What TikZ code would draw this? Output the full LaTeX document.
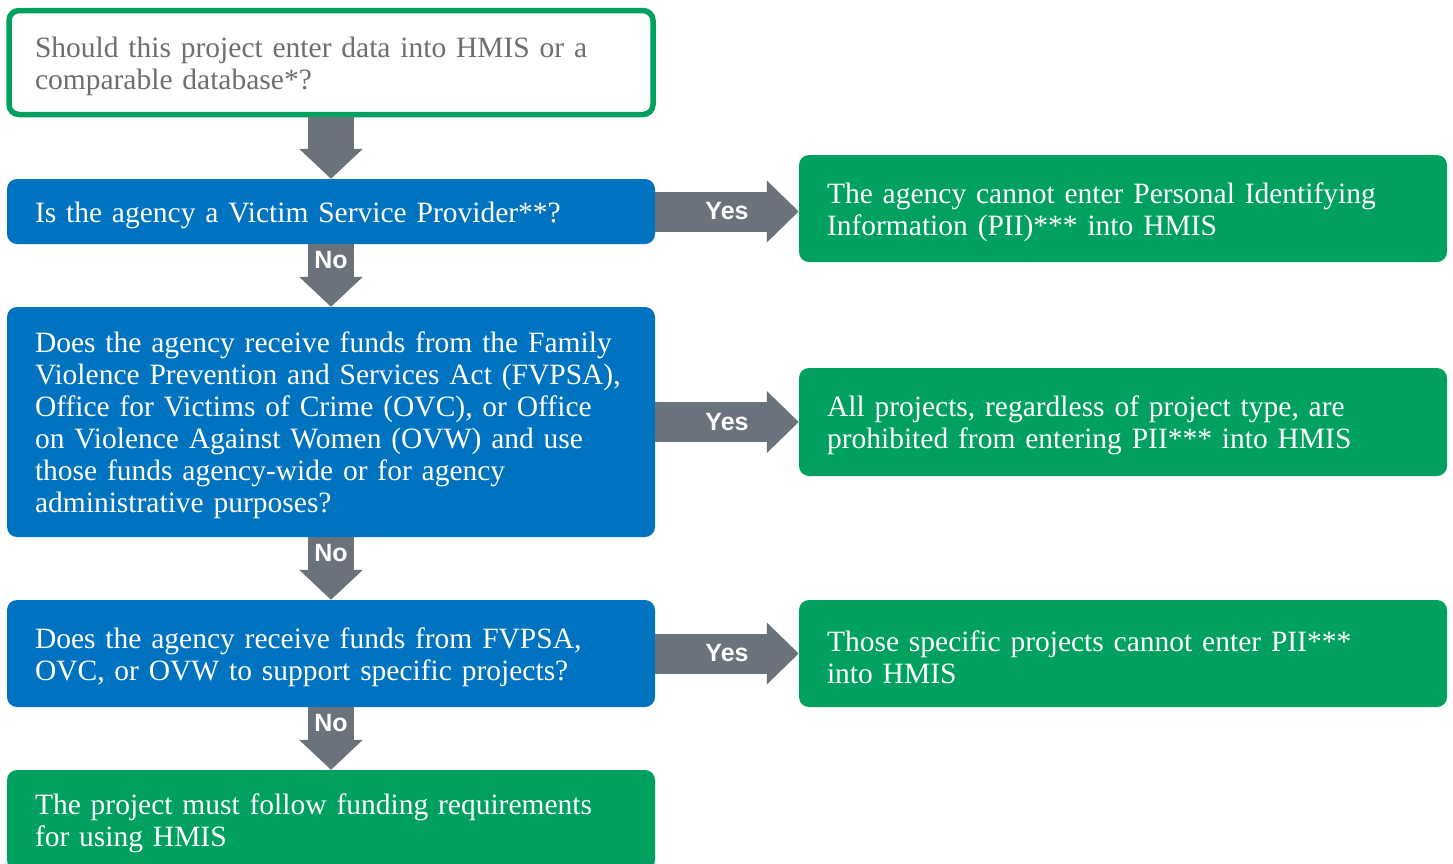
\documentclass[tikz,border=0pt]{standalone}
\usepackage{fontspec}
\setmainfont{Liberation Serif}
\newfontfamily\labelfont{Liberation Sans}
\usetikzlibrary{arrows.meta}
\definecolor{hmisblue}{RGB}{0,115,192}
\definecolor{hmisgreen}{RGB}{0,161,95}
\definecolor{arrowgrey}{RGB}{106,115,123}
\definecolor{textgrey}{RGB}{109,110,113}

\begin{document}
\begin{tikzpicture}[x=1pt,y=-1pt,
		box/.style={rounded corners=10pt, inner xsep=28pt, inner ysep=0pt, text width=592pt, align=left, font=\fontsize{29.5}{32}\selectfont, text=white, execute at begin node=\rule{0pt}{28pt}},
		question/.style={box, fill=hmisblue},
		answer/.style={box, fill=hmisgreen},
		startbox/.style={box, draw=hmisgreen, line width=5.5pt, fill=white, text=textgrey, inner xsep=26pt, text width=592pt},
		varrow/.style={draw=arrowgrey, line width=46pt, -{Triangle[width=62pt, length=30pt]}},
		harrow/.style={draw=arrowgrey, line width=40pt, -{Triangle[width=60pt, length=32pt]}},
		lbl/.style={text=white, font=\labelfont\bfseries\fontsize{25}{25}\selectfont, inner sep=0pt}]
			\useasboundingbox (0,0) rectangle (1453,863);
			% questions down the left
			\node [startbox, minimum height=104pt] (q0) at (331,62.5) {Should this project enter data into HMIS or a\\comparable database*?};
			\node [question, minimum height=65pt] (q1) at (331,211.5) {Is the agency a Victim Service Provider**?};
			\node [question, minimum height=230pt] (q2) at (331,422) {Does the agency receive funds from the Family\\Violence Prevention and Services Act (FVPSA),\\Office for Victims of Crime (OVC), or Office\\on Violence Against Women (OVW) and use\\those funds agency-wide or for agency\\administrative purposes?};
			\node [question, minimum height=107pt] (q3) at (331,653.5) {Does the agency receive funds from FVPSA,\\OVC, or OVW to support specific projects?};
			\node [answer, minimum height=100pt] (q4) at (331,820) {The project must follow funding requirements\\for using HMIS};
			% answers on the right
			\node [answer, minimum height=107pt] (a1) at (1123,208.5) {The agency cannot enter Personal Identifying\\Information (PII)*** into HMIS};
			\node [answer, minimum height=108pt] (a2) at (1123,422) {All projects, regardless of project type, are\\prohibited from entering PII*** into HMIS};
			\node [answer, minimum height=107pt] (a3) at (1123,653.5) {Those specific projects cannot enter PII***\\into HMIS};
			% arrows
			\draw [varrow] (q0.south) -- (q1.north);
			\draw [varrow] (q1.south) -- node [lbl, pos=0.26] {No} (q2.north);
			\draw [varrow] (q2.south) -- node [lbl, pos=0.26] {No} (q3.north);
			\draw [varrow] (q3.south) -- node [lbl, pos=0.26] {No} (q4.north);
			\draw [harrow] (q1.east) -- node [lbl] {Yes} (q1.east -| a1.west);
			\draw [harrow] (q2.east) -- node [lbl] {Yes} (q2.east -| a2.west);
			\draw [harrow] (q3.east) -- node [lbl] {Yes} (q3.east -| a3.west);
		\end{tikzpicture}
\end{document}
